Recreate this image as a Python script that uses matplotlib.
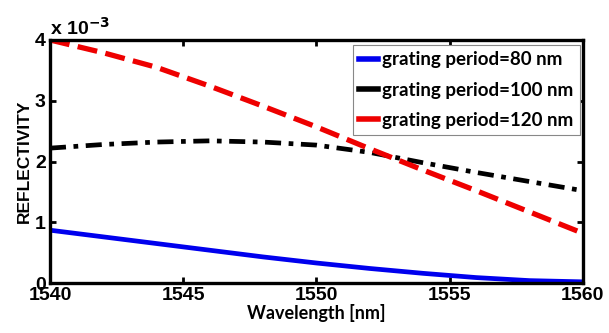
import numpy as np
import matplotlib
matplotlib.use('Agg')
import matplotlib.pyplot as plt

# wavelength samples (nm) and reflectivity (x 1e-3)
wavelength = [1540, 1542, 1544, 1546, 1548, 1550, 1552, 1554, 1556, 1558, 1560]
refl_80 = [0.87, 0.76, 0.65, 0.54, 0.43, 0.33, 0.24, 0.16, 0.09, 0.04, 0.02]
refl_100 = [2.22, 2.28, 2.32, 2.34, 2.32, 2.27, 2.15, 1.98, 1.82, 1.67, 1.52]
refl_120 = [4.00, 3.79, 3.55, 3.24, 2.91, 2.57, 2.21, 1.86, 1.52, 1.17, 0.82]
labels = ['grating period=80 nm', 'grating period=100 nm', 'grating period=120 nm']
xticks = [1540, 1545, 1550, 1555, 1560]
yticks = [0, 1, 2, 3, 4]

fig = plt.figure(figsize=(6.09, 3.33), dpi=100)
ax = fig.add_axes([0.082, 0.150, 0.875, 0.730])

ax.plot(wavelength, refl_80, '-', color='#0000ee', linewidth=3.4, label=labels[0])
ax.plot(wavelength, refl_100, color='black', linewidth=3.4,
        dashes=(3.4, 1.6, 1.0, 1.6), label=labels[1])
ax.plot(wavelength, refl_120, color='#ee0000', linewidth=3.8,
        dashes=(3.8, 1.6), label=labels[2])

ax.set_xlim(1540, 1560)
ax.set_ylim(0, 4)
ax.set_xticks(xticks)
ax.set_yticks(yticks)
ax.tick_params(direction='in', length=4, width=2, top=True, right=True, pad=3)
for lab in ax.get_xticklabels() + ax.get_yticklabels():
    lab.set_fontfamily('Liberation Sans')
    lab.set_fontweight('bold')
    lab.set_fontsize(14)
for sp in ax.spines.values():
    sp.set_linewidth(2.4)

ax.set_xlabel('Wavelength [nm]', fontfamily='Lato', fontweight='bold', fontsize=13, labelpad=0)
ax.set_ylabel('REFLECTIVITY', fontfamily='Liberation Sans', fontweight='bold', fontsize=12.5, labelpad=2)

# exponent label like MATLAB
ax.text(0.0, 1.005, r'x 10$^{\mathbf{-3}}$', transform=ax.transAxes, ha='left', va='bottom',
        fontfamily='Liberation Sans', fontweight='bold', fontsize=14)

leg = ax.legend(loc='upper right', bbox_to_anchor=(0.994, 0.98), borderaxespad=0,
                handlelength=1.0, handletextpad=0.2, borderpad=0.35, labelspacing=0.7,
                fancybox=False, framealpha=1, edgecolor='#888888',
                prop={'family': 'Lato', 'weight': 'bold', 'size': 13.5})
leg.get_frame().set_linewidth(0.8)
for h in leg.get_lines():
    h.set_linestyle('-')
    h.set_linewidth(4)

fig.savefig('out.png', dpi=100)
